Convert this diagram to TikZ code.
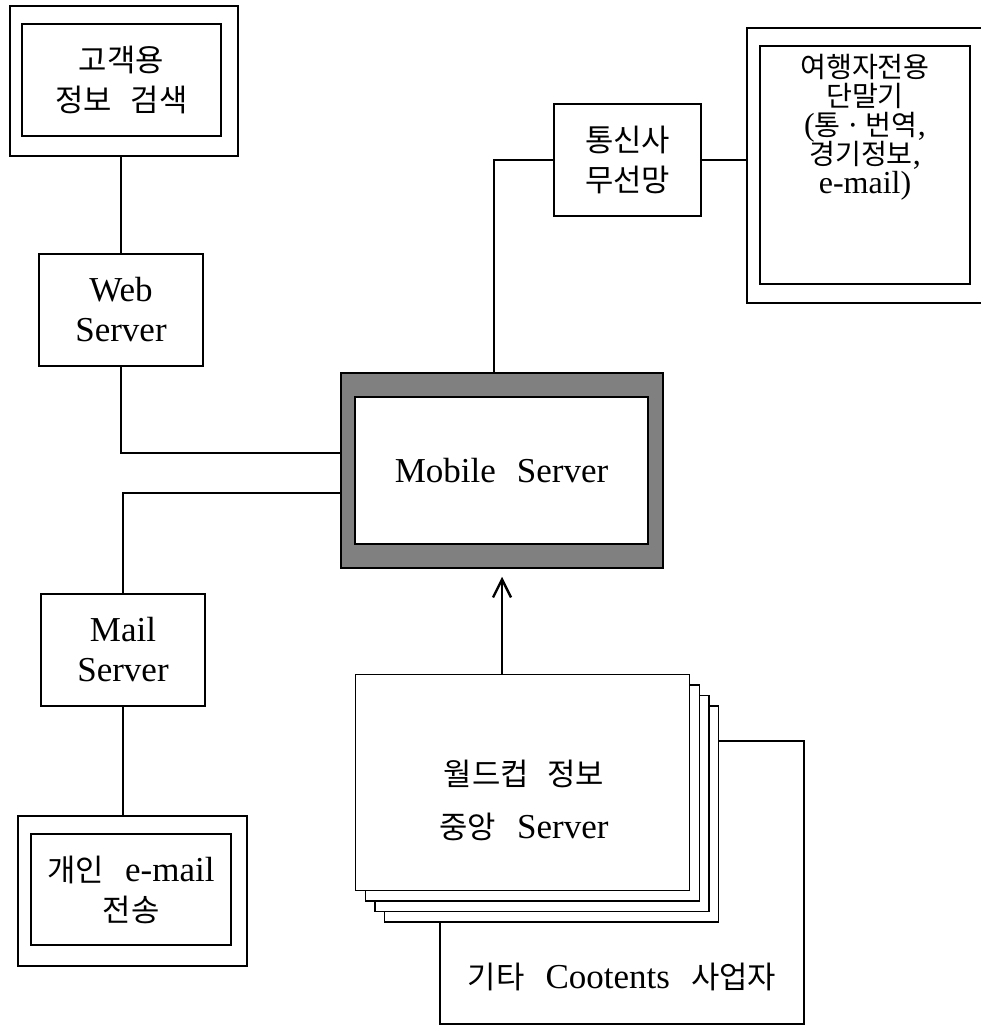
\documentclass[tikz,border=0pt]{standalone}
\usepackage{fontspec}
\setmainfont{Liberation Serif}
\newfontfamily\krfont[Scale=0.88]{Noto Sans CJK KR}
\usetikzlibrary{arrows.meta}
\newcommand{\kr}[1]{{\krfont #1}}
\newcommand{\wsp}{\hspace{0.6em}}
\newcommand{\tightlines}{\lineskiplimit=-20pt\relax}

\begin{document}
\begin{tikzpicture}[x=1pt, y=-1pt,
		box/.style={draw, line width=1.5pt, inner sep=0pt, align=center, font=\fontsize{35}{40}\selectfont},
		frame/.style={draw, line width=1.7pt, inner sep=0pt},
		card/.style={draw, fill=white, line width=1.2pt, minimum width=334pt, minimum height=216pt},
		link/.style={line width=2.8pt},
		feed/.style={line width=2.4pt, -{Straight Barb[length=18pt, width=18pt]}, shorten >=8pt}]
		\useasboundingbox (0,0) rectangle (981,1026);
		\node[frame, minimum width=228pt, minimum height=150pt] (search-frame) at (124,81) {};
		\node[box, minimum width=199pt, minimum height=112pt] (search) at (121.5,80) {\kr{고객용}\\\kr{정보\wsp 검색}};
		\node[box, minimum width=164pt, minimum height=112pt] (web) at (121,310) {Web\\Server};
		\node[box, minimum width=164pt, minimum height=112pt] (mail) at (123,650) {Mail\\Server};
		\node[frame, minimum width=229pt, minimum height=150pt] (email-frame) at (132.5,891) {};
		\node[box, minimum width=200pt, minimum height=111pt] (email) at (131,889.5) {\kr{개인}\wsp e-mail\\\kr{전송}};
		\node[draw, line width=1.5pt, fill=black!50, minimum width=322pt, minimum height=195pt] (mobile-frame) at (502,470.5) {};
		\node[box, fill=white, minimum width=293pt, minimum height=147pt] (mobile) at (501.5,470.5) {Mobile\wsp Server};
		\node[box, minimum width=147pt, minimum height=112pt] (carrier) at (627.5,160) {\kr{통신사}\\\kr{무선망}};
		\coordinate (terminal-edge) at (747,160);
		\draw[line width=1.7pt] (981,28) -| (747,303) -- (981,303);
		\node[frame, minimum width=210pt, minimum height=238pt] (terminal) at (865,165) {};
		\node[align=center, font={\fontsize{32}{29}\selectfont\tightlines}] (terminal-text) at (865,127) {\kr{여행자전용}\\\kr{단말기}\\(\kr{통\,·\,번역},\\\kr{경기정보},\\e-mail)};
		\node[frame, minimum width=364pt, minimum height=283pt] (contents) at (622,882.5) {};
		\node[font=\fontsize{35}{40}\selectfont] (contents-text) at (622,977) {\kr{기타}\wsp Cootents\wsp\kr{사업자}};
		\foreach \i in {3,2,1}
			\node[card] (layer-\i) at (522.5+\i*9.7, 782.5+\i*10.5) {};
		\node[card] (worldcup) at (522.5,782.5) {};
		\node[align=center, font=\fontsize{35}{53}\selectfont] (worldcup-text) at (524,800) {\kr{월드컵\wsp 정보}\\\kr{중앙}\wsp Server};
		\draw[link] (search-frame.south -| web.north) -- (web.north);
		\draw[link] (web.south) |- ([yshift=17.5pt]mobile-frame.west);
		\draw[link] (mail.north) |- ([yshift=-22.5pt]mobile-frame.west);
		\draw[link] (mail.south) -- (mail.south |- email-frame.north);
		\draw[link] ([xshift=-8pt]mobile-frame.north) |- (carrier.west);
		\draw[link] (carrier.east) -- (terminal-edge);
		\draw[feed] (mobile-frame.south |- worldcup.north) -- (mobile-frame.south);
	\end{tikzpicture}
\end{document}
